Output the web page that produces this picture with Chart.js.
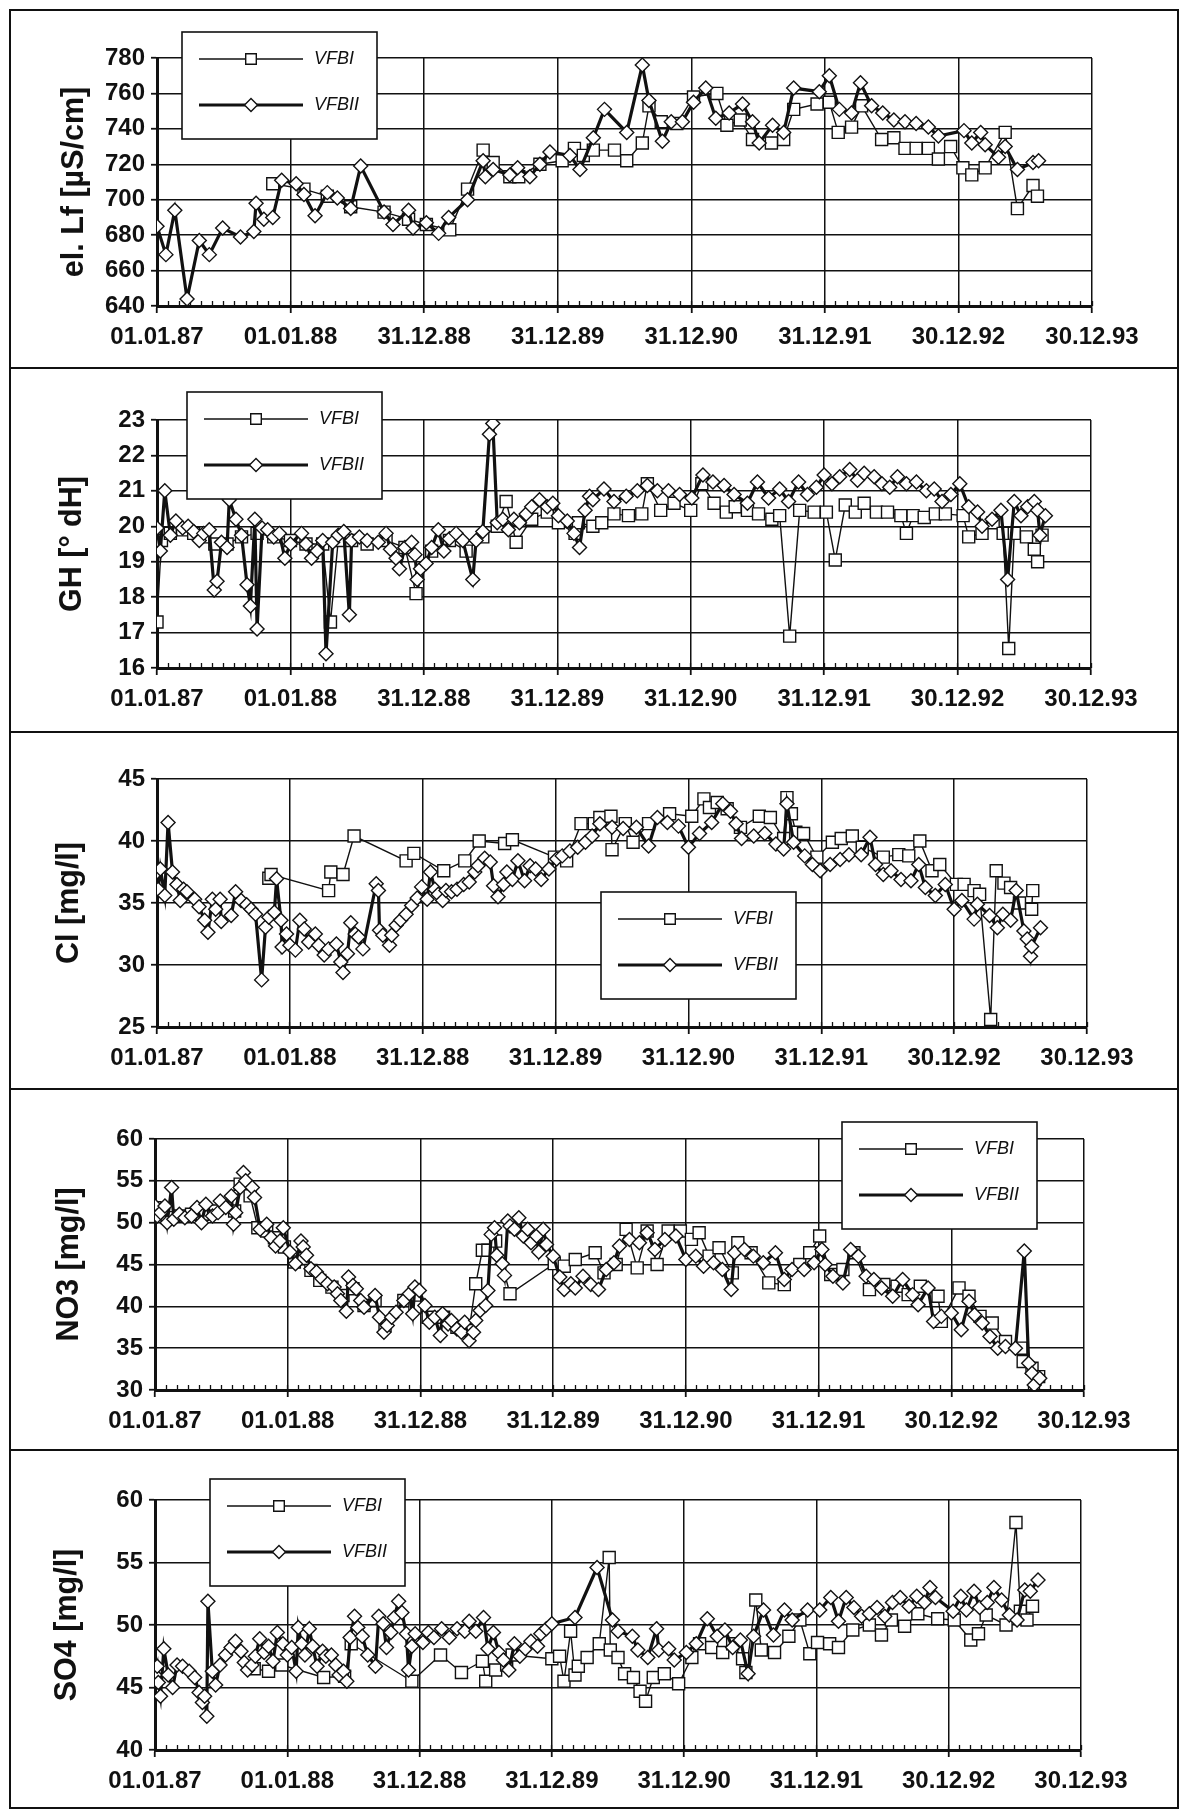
<!DOCTYPE html>
<html>
<head>
<meta charset="utf-8">
<script src="https://cdn.jsdelivr.net/npm/chart.js@4/dist/chart.umd.min.js"></script>
<style>
  html, body { margin: 0; padding: 0; background: #fff; }
  #page { position: relative; width: 1182px; height: 1810px; overflow: hidden; background: #fff; }
  .panel { position: absolute; left: 9px; width: 1170px; }
  .panel canvas { position: absolute; left: 0; top: 0; }
  .frame { position: absolute; left: 9px; width: 1170px; border: 2px solid #111; box-sizing: border-box; pointer-events: none; }
</style>
</head>
<body>
<div id="page"></div>
<script>
// Sampling time is given in months after 01.01.87; values in the unit of each panel.
const dateLabels = ['01.01.87', '01.01.88', '31.12.88', '31.12.89', '31.12.90', '31.12.91', '30.12.92', '30.12.93'];
const seriesNames = ['VFBI', 'VFBII'];

// Electrical conductivity [µS/cm]
const lfVFBI = [[10.4,709],[13.2,706],[15.3,702],[17.4,696],[20.4,693],[22.6,689],[24.2,686],[26.3,683],[27.9,706],[29.3,728],[30.2,721],[31.7,713],[32.5,713],[34.4,720],[36.4,722],[37.5,729],[38.3,725],[39.2,728],[41.1,728],[42.2,722],[43.6,732],[44.2,753],[45.3,744],[46.7,743],[48.2,758],[50.3,760],[51.2,742],[52.4,745],[53.5,734],[55.2,732],[56.3,734],[57.2,751],[59.3,754],[60.4,755],[61.2,738],[62.4,741],[63.3,753],[65.1,734],[66.2,735],[67.2,729],[68.2,729],[69.3,729],[70.2,723],[71.3,730],[72.4,718],[73.2,714],[74.4,718],[76.2,738],[77.3,695],[78.7,708],[79.1,702]];
const lfVFBII = [[0,685],[0.8,669],[1.6,694],[2.7,644],[3.8,677],[4.7,669],[5.9,684],[7.5,679],[8.7,682],[8.9,698],[9.6,689],[10.4,690],[11.2,711],[12.5,709],[13.2,703],[14.2,691],[15.3,704],[16.2,701],[17.4,695],[18.3,719],[20.4,693],[21.2,686],[22.6,694],[23.0,684],[24.2,687],[25.3,681],[26.2,690],[27.9,700],[29.3,722],[29.5,713],[30.2,717],[31.7,714],[32.4,718],[33.5,713],[34.4,720],[35.3,727],[37.1,725],[38.0,717],[39.2,735],[40.2,751],[42.2,738],[43.6,776],[44.2,756],[45.4,733],[46.2,744],[47.2,744],[48.2,755],[49.3,763],[50.2,746],[51.4,749],[52.6,754],[53.5,744],[54.1,732],[55.3,742],[56.3,738],[57.2,763],[59.5,761],[60.4,770],[61.3,751],[62.4,749],[63.2,766],[64.2,753],[65.2,749],[66.2,745],[67.2,744],[68.2,743],[69.3,741],[70.2,736],[72.5,739],[73.2,732],[74.0,738],[74.4,731],[75.6,724],[76.2,730],[77.3,717],[78.7,721],[79.2,722]];

// Total hardness [° dH]
const ghVFBI = [[0,17.3],[0.4,19.6],[1.2,19.8],[2.3,19.9],[3.3,19.8],[4.2,19.7],[5.2,19.5],[6.3,19.5],[7.6,19.7],[9.0,19.8],[10.5,19.7],[12.0,19.6],[13.4,19.5],[14.9,19.5],[15.6,17.3],[16.3,19.6],[17.5,19.6],[18.9,19.5],[20.6,19.6],[22.3,19.4],[23.3,18.1],[24.7,19.3],[26.3,19.6],[27.8,19.3],[29.3,19.7],[30.6,20.0],[31.4,20.7],[32.3,19.55],[33.7,20.2],[35.1,20.4],[36.1,20.1],[37.6,19.8],[37.9,20.1],[39.2,20.0],[40.0,20.1],[41.1,20.35],[42.4,20.3],[43.6,20.35],[44.1,21.2],[45.3,20.45],[46.5,20.65],[48.0,20.45],[49.0,21.2],[50.1,20.65],[51.2,20.4],[52.0,20.55],[53.1,20.45],[54.1,20.35],[55.3,20.2],[56.0,20.3],[56.9,16.9],[57.8,20.45],[59.1,20.4],[60.2,20.4],[61.0,19.05],[61.9,20.6],[62.8,20.4],[63.6,20.65],[64.7,20.4],[65.7,20.4],[66.9,20.3],[67.4,19.8],[68.0,20.3],[69.0,20.25],[70.0,20.35],[70.9,20.35],[72.5,20.3],[73.0,19.7],[74.2,19.8],[75.2,20.1],[76.1,19.8],[76.6,16.55],[77.1,19.8],[78.2,19.7],[78.9,19.35],[79.2,19.0],[79.6,19.75]];
const ghVFBII = [[0,19.95],[0.3,19.3],[0.7,21.0],[1.2,19.75],[1.7,20.15],[2.3,19.95],[2.8,20.0],[3.3,19.85],[3.8,19.6],[4.2,19.8],[4.7,19.9],[5.15,18.2],[5.4,18.45],[5.8,19.55],[6.3,19.4],[6.5,20.75],[7.1,20.2],[7.6,19.75],[8.1,18.35],[8.4,17.75],[8.8,20.2],[9.0,17.1],[9.45,19.95],[9.95,19.9],[10.5,19.7],[11.0,19.8],[11.5,19.1],[12.0,19.5],[13.0,19.8],[13.4,19.5],[13.9,19.1],[14.4,19.3],[14.9,19.6],[15.2,16.4],[15.8,19.55],[16.3,19.75],[16.8,19.85],[17.3,17.5],[17.5,19.6],[18.2,19.7],[18.9,19.6],[19.9,19.55],[20.6,19.8],[21.0,19.35],[21.5,19.1],[21.8,18.8],[22.3,19.4],[22.9,19.55],[23.2,19.2],[23.4,18.5],[23.7,18.8],[24.2,18.95],[24.7,19.4],[25.3,19.9],[25.8,19.3],[26.3,19.65],[26.9,19.8],[27.5,19.6],[28.4,18.5],[28.7,19.6],[29.3,19.85],[29.9,22.6],[30.2,22.9],[30.6,20.1],[31.1,20.2],[31.6,19.9],[32.1,20.2],[32.6,20.1],[33.2,20.35],[33.7,20.55],[34.4,20.75],[35.1,20.55],[35.6,20.65],[36.1,20.3],[36.9,20.15],[37.5,19.8],[38.0,19.4],[38.5,20.45],[38.9,20.85],[39.2,20.75],[40.2,21.05],[41.1,20.7],[42.2,20.85],[43.2,21.0],[44.1,21.15],[45.0,21.0],[46.0,21.0],[47.0,20.9],[48.1,20.8],[49.1,21.45],[50.0,21.25],[51.0,21.15],[51.9,20.9],[53.1,20.65],[54.0,21.25],[55.0,20.8],[56.0,21.05],[56.8,20.7],[57.7,21.25],[58.5,20.9],[59.3,21.1],[60.0,21.45],[60.7,21.2],[61.4,21.4],[62.3,21.6],[63.0,21.3],[63.6,21.5],[64.5,21.4],[65.2,21.2],[65.9,21.1],[66.6,21.4],[67.4,21.2],[68.3,21.25],[69.2,21.0],[69.9,21.05],[70.6,20.7],[71.4,20.9],[72.2,21.2],[73.0,20.55],[73.8,20.4],[74.2,20.0],[75.1,20.2],[75.9,20.45],[76.5,18.5],[77.1,20.7],[77.7,20.3],[78.3,20.55],[78.9,20.7],[79.2,20.45],[79.4,19.75],[79.9,20.3]];

// Chloride [mg/l]
const clVFBI = [[10.1,37.0],[10.3,37.3],[15.5,36.0],[15.7,37.5],[16.8,37.3],[17.8,40.4],[22.5,38.4],[23.2,39.0],[25.9,37.6],[27.8,38.4],[29.1,40.0],[31.4,39.8],[32.1,40.1],[35.9,38.7],[37.0,38.4],[38.3,41.4],[39.5,41.4],[40.0,41.9],[41.0,42.0],[41.1,39.3],[42.3,41.4],[43.0,39.9],[44.4,41.4],[46.3,42.2],[48.3,42.0],[49.4,43.4],[49.9,42.7],[50.6,43.1],[51.5,42.6],[52.7,41.1],[54.4,42.0],[55.4,41.9],[56.6,40.2],[56.9,43.5],[57.3,42.2],[57.7,40.7],[58.4,40.6],[59.6,38.7],[61.0,39.9],[61.8,40.2],[62.8,40.4],[63.7,39.5],[65.6,38.7],[67.0,38.9],[67.9,38.8],[68.9,40.0],[70.0,37.6],[70.7,38.1],[72.2,36.5],[72.9,36.5],[73.8,36.0],[74.3,35.7],[75.3,25.6],[75.8,37.6],[76.5,36.6],[77.1,36.25],[77.9,35.0],[79.0,34.5],[79.1,36.0]];
const clVFBII = [[0,37.5],[0.1,36.1],[0.3,37.75],[0.7,35.6],[1.0,41.5],[1.4,37.5],[1.8,36.5],[2.1,35.2],[2.4,36.1],[2.7,35.9],[3.4,35.3],[3.8,34.7],[4.3,33.6],[4.6,32.65],[5.0,35.3],[5.3,34.5],[5.7,35.3],[5.8,33.5],[6.7,34.0],[7.1,35.9],[7.6,35.2],[8.1,34.85],[8.5,34.5],[8.9,34.1],[9.45,28.8],[9.8,33.05],[10.1,33.85],[10.6,34.25],[10.8,36.95],[11.2,33.6],[11.3,31.45],[11.7,32.5],[12.0,31.6],[12.5,31.2],[12.9,33.6],[13.3,32.9],[13.7,31.85],[14.3,32.5],[14.6,31.6],[15.1,30.8],[15.5,31.3],[16.2,31.7],[16.6,30.25],[16.8,29.4],[17.2,30.9],[17.5,33.4],[17.9,32.5],[18.2,32.25],[18.6,31.3],[19.8,36.55],[20.0,36.0],[20.1,32.8],[20.4,32.4],[21.0,31.6],[21.2,32.4],[21.6,33.2],[22.0,33.6],[22.5,34.1],[23.0,34.8],[23.5,35.4],[23.9,36.3],[24.4,35.3],[24.7,37.5],[25.1,36.1],[25.4,35.7],[25.8,35.2],[26.1,36.0],[26.6,35.9],[27.1,36.1],[27.7,36.5],[28.2,36.7],[28.7,37.5],[29.0,38.0],[29.6,38.6],[30.1,38.3],[30.4,36.4],[30.8,35.5],[31.3,36.5],[31.6,37.5],[32.1,36.9],[32.6,38.4],[33.2,36.8],[33.7,38.0],[34.2,37.75],[34.7,36.9],[35.4,37.75],[36.1,38.55],[36.6,38.8],[37.3,39.2],[38.0,39.5],[38.7,39.9],[39.3,40.4],[40.0,41.4],[41.1,41.1],[42.1,41.0],[43.3,41.1],[44.4,39.6],[45.2,41.9],[46.1,41.5],[47.1,41.2],[48.0,39.5],[49.0,40.6],[50.1,41.5],[51.1,43.0],[51.8,42.4],[52.3,41.4],[52.8,40.2],[53.9,40.4],[54.9,40.6],[55.9,39.75],[56.6,39.35],[56.9,43.0],[57.5,39.9],[58.5,38.8],[59.2,38.1],[59.9,37.6],[60.8,38.1],[61.7,38.5],[62.5,38.9],[63.6,38.9],[64.4,40.3],[64.9,38.1],[65.6,37.3],[66.3,37.6],[67.2,36.9],[68.1,36.8],[68.8,38.1],[69.4,36.25],[70.3,35.6],[71.2,36.5],[72.0,34.5],[72.7,35.2],[73.8,33.7],[74.1,34.9],[75.2,34.0],[75.9,33.0],[76.4,34.1],[77.1,33.6],[77.6,36.0],[78.3,32.75],[78.6,32.1],[78.9,30.7],[79.0,31.5],[79.8,33.0]];

// Nitrate [mg/l]
const no3VFBI = [[0,51.8],[1.1,50.6],[2.2,50.8],[3.3,51.0],[4.3,51.0],[5.3,51.4],[6.4,52.0],[7.2,51.4],[7.7,54.6],[8.6,53.2],[9.3,49.4],[10.1,49.0],[10.8,48.2],[11.7,47.1],[12.6,45.3],[13.4,45.7],[14.1,44.3],[14.9,43.1],[16.0,42.3],[17.0,41.3],[17.9,42.1],[18.9,40.1],[19.9,40.7],[20.8,37.7],[22.5,40.7],[23.5,39.9],[24.7,38.7],[26.1,38.7],[27.3,37.5],[28.4,37.1],[29.0,42.7],[29.6,46.7],[30.1,46.7],[30.8,47.8],[32.1,41.5],[36.1,45.1],[37.0,44.8],[38.0,45.6],[39.8,46.4],[40.6,44.0],[41.7,45.0],[42.6,49.2],[43.6,44.6],[44.5,49.0],[45.4,45.0],[46.4,49.0],[47.5,49.0],[48.5,48.0],[49.2,48.8],[50.1,46.0],[51.0,47.0],[52.2,44.0],[52.7,47.6],[53.9,46.4],[55.5,42.8],[56.9,42.6],[58.3,45.0],[59.2,46.4],[60.1,48.4],[61.1,43.8],[62.2,44.4],[63.2,46.4],[64.6,42.0],[65.9,42.6],[67.1,42.4],[68.1,41.4],[69.2,42.4],[70.8,41.2],[71.1,38.2],[72.7,42.2],[73.6,41.2],[74.6,38.8],[75.7,38.0],[76.9,35.8],[78.3,35.0],[78.5,33.4],[79.3,32.6],[79.9,31.6]];
const no3VFBII = [[0,52.0],[0.2,50.8],[0.5,51.2],[0.9,52.0],[1.1,50.0],[1.5,54.2],[1.7,50.4],[2.2,51.0],[2.7,50.6],[3.3,50.8],[3.8,51.8],[4.2,50.0],[4.6,52.2],[5.2,50.8],[5.7,51.2],[5.9,52.6],[6.4,51.8],[6.9,53.2],[7.1,49.8],[7.3,51.2],[7.7,54.2],[8.0,56.0],[8.2,55.0],[8.8,54.2],[9.0,53.0],[9.5,49.2],[10.1,49.8],[10.5,48.2],[10.9,47.2],[11.3,47.8],[11.6,49.4],[12.2,46.5],[12.7,45.1],[13.2,47.8],[13.4,47.1],[13.7,46.1],[14.1,44.5],[14.6,44.1],[15.1,43.3],[15.6,42.7],[16.2,42.3],[16.5,41.5],[16.8,40.7],[17.3,39.4],[17.5,43.5],[17.9,42.5],[18.2,42.1],[18.6,40.7],[18.9,39.9],[19.9,41.3],[20.3,38.7],[20.7,36.9],[21.0,37.7],[21.4,38.7],[21.8,39.3],[22.5,40.7],[23.0,41.5],[23.3,39.1],[23.5,42.3],[23.9,41.9],[24.4,40.1],[24.8,38.1],[25.3,38.7],[25.8,36.5],[26.0,39.1],[26.5,37.9],[26.8,38.3],[27.3,37.3],[27.7,36.9],[28.0,38.1],[28.4,35.9],[28.8,36.9],[29.0,38.3],[29.4,39.5],[29.9,40.1],[30.1,41.9],[30.4,48.6],[30.7,49.4],[30.9,46.1],[31.4,45.1],[31.6,43.7],[31.9,50.2],[32.1,49.6],[32.5,49.2],[32.9,50.6],[33.3,48.4],[33.7,49.2],[34.0,47.6],[34.5,48.4],[34.7,46.5],[35.1,49.2],[35.4,47.4],[36.0,46.0],[36.6,43.5],[37.0,42.0],[37.6,42.7],[38.0,42.2],[38.7,43.6],[39.4,42.6],[40.1,42.0],[40.8,44.4],[41.5,45.2],[42.0,47.2],[42.9,48.0],[43.8,47.6],[44.5,48.8],[45.2,46.8],[46.1,48.0],[47.1,48.4],[48.0,45.6],[48.9,46.0],[49.6,44.8],[50.5,45.2],[51.3,44.4],[52.1,42.0],[52.4,46.4],[53.3,46.8],[54.1,46.0],[55.0,45.2],[56.1,46.4],[56.9,43.2],[57.6,44.4],[58.7,44.4],[59.6,45.2],[60.3,46.8],[60.6,45.0],[61.3,43.6],[62.2,42.8],[62.9,46.8],[63.6,46.0],[64.3,43.6],[65.0,43.2],[65.7,42.2],[66.7,41.2],[67.6,43.2],[68.5,41.4],[69.0,40.2],[69.9,42.2],[70.4,38.2],[71.1,38.8],[72.0,39.2],[72.9,37.2],[73.6,40.6],[74.1,39.0],[74.8,38.0],[75.5,36.4],[76.2,35.0],[76.9,35.2],[77.8,35.0],[78.6,46.6],[79.0,33.2],[79.3,32.0],[79.5,30.6],[80.0,31.4]];

// Sulphate [mg/l]
const so4VFBI = [[9.0,46.5],[10.3,46.3],[11.5,46.8],[15.3,45.8],[17.2,45.9],[17.8,48.5],[23.3,45.5],[25.9,47.6],[27.8,46.2],[29.7,47.1],[30.0,45.5],[30.9,46.4],[31.9,46.8],[32.4,47.6],[36.0,47.3],[36.7,47.5],[37.1,45.5],[37.7,49.5],[38.1,46.0],[38.4,46.7],[39.2,47.4],[40.3,48.5],[41.2,55.4],[41.3,48.0],[42.0,47.4],[42.6,46.1],[43.4,45.8],[44.0,44.7],[44.5,43.9],[45.2,45.8],[46.2,46.1],[47.5,45.3],[48.7,47.4],[49.4,48.5],[50.5,48.2],[51.5,47.8],[52.4,48.5],[53.3,47.3],[53.6,46.2],[54.5,52.0],[55.0,48.0],[56.2,47.8],[57.5,49.1],[58.5,50.4],[59.4,47.7],[60.1,48.6],[61.2,48.5],[62.0,48.2],[63.3,49.6],[64.8,50.0],[65.9,49.2],[66.8,50.4],[68.0,49.9],[69.2,50.9],[71.0,50.5],[72.5,50.4],[74.0,48.8],[74.7,49.3],[75.4,50.8],[77.2,50.0],[78.1,58.2],[78.5,51.1],[79.1,50.4],[79.6,51.5]];
const so4VFBII = [[0,46.0],[0.2,46.7],[0.3,45.4],[0.5,44.3],[0.8,48.1],[1.2,46.0],[1.6,45.0],[2.0,46.8],[2.5,46.7],[3.1,46.3],[3.6,45.8],[4.0,44.6],[4.3,43.8],[4.5,44.3],[4.7,42.7],[4.8,51.9],[5.2,46.3],[5.5,45.2],[5.9,46.8],[6.4,47.6],[6.9,48.2],[7.3,48.7],[7.8,47.9],[8.1,47.0],[8.4,46.4],[8.8,46.8],[9.1,47.5],[9.5,48.9],[9.9,47.8],[10.3,48.3],[10.7,47.1],[11.1,49.4],[11.6,48.5],[12.0,47.6],[12.4,48.2],[12.8,46.3],[13.0,49.8],[13.3,48.5],[13.6,47.6],[14.0,49.7],[14.3,48.3],[14.7,46.7],[15.2,47.9],[15.5,47.5],[16.0,47.6],[16.4,46.8],[16.7,46.0],[17.1,46.3],[17.4,45.5],[17.7,49.0],[18.1,50.7],[18.4,49.8],[18.8,49.1],[19.3,47.6],[20.0,46.7],[20.3,50.7],[20.7,50.1],[21.0,48.2],[21.4,49.4],[21.7,50.6],[22.1,51.9],[22.4,51.0],[22.8,49.3],[23.0,46.4],[23.3,48.3],[23.6,49.3],[24.3,48.6],[24.8,49.4],[25.3,49.0],[26.0,49.7],[26.7,49.0],[27.4,49.7],[28.1,49.5],[28.5,50.3],[29.1,49.5],[29.8,50.6],[30.2,48.1],[30.7,49.4],[31.2,47.8],[31.6,47.2],[32.1,46.4],[32.6,48.5],[33.1,47.5],[33.6,48.1],[34.1,48.7],[34.7,48.3],[35.0,49.3],[35.5,49.7],[36.0,50.1],[38.1,50.6],[40.1,54.6],[41.5,50.4],[42.0,49.5],[43.3,49.1],[43.8,48.0],[44.7,47.4],[45.5,49.7],[45.7,48.0],[46.6,48.1],[47.1,47.2],[48.2,47.8],[49.1,48.5],[50.1,50.5],[51.0,49.1],[51.7,49.6],[52.4,48.2],[53.1,48.8],[53.8,46.1],[54.3,49.1],[55.2,51.2],[56.1,49.2],[57.1,51.2],[57.8,50.4],[59.2,51.2],[60.3,51.2],[61.3,52.2],[62.0,50.3],[62.7,52.2],[63.4,51.4],[64.1,50.7],[64.8,50.9],[65.5,51.4],[66.2,50.7],[66.9,51.8],[67.6,52.2],[68.4,51.5],[69.1,52.3],[69.8,51.8],[70.3,53.0],[70.8,52.2],[72.4,51.1],[73.1,52.3],[73.6,51.2],[74.3,52.7],[74.8,51.4],[75.5,51.8],[76.1,53.0],[76.8,52.0],[77.5,50.8],[78.2,50.4],[78.9,52.8],[79.4,52.7],[80.1,53.6]];

// Panel layout in page pixels
const panels = [
  { title: 'el. Lf [µS/cm]', top: 10,   bottom: 368,  plot: { l: 157, t: 58,   r: 1092, b: 306 },  y: [640, 780, 20], titleX: 75, legend: [182, 32],  data: [lfVFBI, lfVFBII] },
  { title: 'GH [° dH]',      top: 368,  bottom: 732,  plot: { l: 157, t: 420,  r: 1091, b: 668 },  y: [16, 23, 1],    titleX: 73, legend: [187, 392], data: [ghVFBI, ghVFBII] },
  { title: 'Cl [mg/l]',      top: 732,  bottom: 1089, plot: { l: 157, t: 779,  r: 1087, b: 1027 }, y: [25, 45, 5],    titleX: 70, legend: [601, 892], data: [clVFBI, clVFBII] },
  { title: 'NO3 [mg/l]',     top: 1089, bottom: 1450, plot: { l: 155, t: 1139, r: 1084, b: 1390 }, y: [30, 60, 5],    titleX: 70, legend: [842, 1122], data: [no3VFBI, no3VFBII] },
  { title: 'SO4 [mg/l]',     top: 1450, bottom: 1808, plot: { l: 155, t: 1500, r: 1081, b: 1750 }, y: [40, 60, 5],    titleX: 68, legend: [210, 1479], data: [so4VFBI, so4VFBII] }
];

const INK = '#111';
const PANEL_LEFT = 9, PANEL_WIDTH = 1170;
const tickFont = { family: '"Liberation Sans", Arial, sans-serif', size: 24, weight: 'bold' };
const titleFont = { family: '"Liberation Sans", Arial, sans-serif', size: 30.5, weight: 'bold', lineHeight: 1.2 };

// Boxed legend with a line-and-marker sample per series
const boxLegend = {
  id: 'boxLegend',
  afterDraw(chart, args, opts) {
    const ctx = chart.ctx;
    const x = opts.x, y = opts.y, w = 195, h = 107;
    ctx.save();
    ctx.fillStyle = '#fff';
    ctx.fillRect(x, y, w, h);
    ctx.lineWidth = 1.6;
    ctx.strokeStyle = INK;
    ctx.strokeRect(x, y, w, h);
    chart.data.datasets.forEach((ds, i) => {
      const ry = y + 27 + i * 46;
      ctx.beginPath();
      ctx.lineWidth = ds.borderWidth;
      ctx.strokeStyle = ds.borderColor;
      ctx.moveTo(x + 17, ry);
      ctx.lineTo(x + 121, ry);
      ctx.stroke();
      ctx.fillStyle = ds.pointBackgroundColor;
      ctx.strokeStyle = ds.pointBorderColor;
      ctx.lineWidth = ds.pointBorderWidth;
      const r = ds.pointStyle === 'rect' ? 7.5 : 6.5;
      Chart.helpers.drawPoint(ctx, { pointStyle: ds.pointStyle, radius: r, borderWidth: ds.pointBorderWidth, rotation: 0 }, x + 69, ry);
      ctx.fillStyle = INK;
      ctx.font = 'italic 18px "Liberation Sans", Arial, sans-serif';
      ctx.textBaseline = 'middle';
      ctx.textAlign = 'left';
      ctx.fillText(ds.label, x + 132, ry);
    });
    ctx.restore();
  }
};

const page = document.getElementById('page');
const toXY = arr => arr.map(p => ({ x: p[0], y: p[1] }));

panels.forEach(p => {
  const h = p.bottom - p.top;
  const holder = document.createElement('div');
  holder.className = 'panel';
  holder.style.top = p.top + 'px';
  holder.style.height = h + 'px';
  const canvas = document.createElement('canvas');
  canvas.width = PANEL_WIDTH;
  canvas.height = h;
  canvas.style.width = PANEL_WIDTH + 'px';
  canvas.style.height = h + 'px';
  holder.appendChild(canvas);
  page.appendChild(holder);

  const frame = document.createElement('div');
  frame.className = 'frame';
  frame.style.top = (p.top - 1) + 'px';
  frame.style.height = (h + 2) + 'px';
  page.appendChild(frame);

  const yAxisWidth = p.plot.l - PANEL_LEFT;
  const xAxisHeight = p.bottom - p.plot.b;
  const titlePad = (p.titleX - PANEL_LEFT) - titleFont.size * titleFont.lineHeight / 2;

  new Chart(canvas, {
    type: 'line',
    data: {
      datasets: [
        { label: seriesNames[0], data: toXY(p.data[0]), borderColor: INK, borderWidth: 1.4,
          pointStyle: 'rect', pointRadius: 8.5, pointBackgroundColor: '#fff', pointBorderColor: INK, pointBorderWidth: 1.4, order: 1 },
        { label: seriesNames[1], data: toXY(p.data[1]), borderColor: INK, borderWidth: 3.2,
          pointStyle: 'rectRot', pointRadius: 7, pointBackgroundColor: '#fff', pointBorderColor: INK, pointBorderWidth: 1.4, order: 0 }
      ]
    },
    options: {
      responsive: false,
      animation: false,
      events: [],
      layout: { padding: { left: 0, top: p.plot.t - p.top, right: PANEL_LEFT + PANEL_WIDTH - p.plot.r, bottom: 0 } },
      elements: { line: { tension: 0 } },
      plugins: {
        legend: { display: false },
        tooltip: { enabled: false },
        boxLegend: { x: p.legend[0] - PANEL_LEFT, y: p.legend[1] - p.top }
      },
      scales: {
        x: {
          type: 'linear', position: 'bottom', min: 0, max: 84, weight: 1,
          ticks: { stepSize: 12, autoSkip: false, maxRotation: 0, color: INK, font: tickFont, padding: 10,
                   callback: v => dateLabels[Math.round(v / 12)] },
          grid: { color: INK, lineWidth: 1.5, tickLength: 7, tickColor: INK, tickWidth: 1.8 },
          border: { color: INK, width: 3 },
          afterFit: s => { s.height = xAxisHeight; }
        },
        // monthly marks rising from the time axis
        xMinor: {
          type: 'linear', position: 'bottom', min: 0, max: 84, weight: 0,
          ticks: { display: false, stepSize: 1, autoSkip: false },
          grid: { drawOnChartArea: false, tickLength: -5, tickColor: INK, tickWidth: 1.3 },
          border: { display: false },
          afterFit: s => { s.height = 0; }
        },
        y: {
          type: 'linear', min: p.y[0], max: p.y[1],
          ticks: { stepSize: p.y[2], color: INK, font: tickFont, padding: 6 },
          grid: { color: INK, lineWidth: 1.5, tickLength: 6, tickColor: INK, tickWidth: 1.8 },
          border: { color: INK, width: 3 },
          title: { display: true, text: p.title, color: INK, font: titleFont, padding: { top: titlePad, bottom: 0 } },
          afterFit: s => { s.width = yAxisWidth; }
        }
      }
    },
    plugins: [boxLegend]
  });
});
</script>
</body>
</html>
